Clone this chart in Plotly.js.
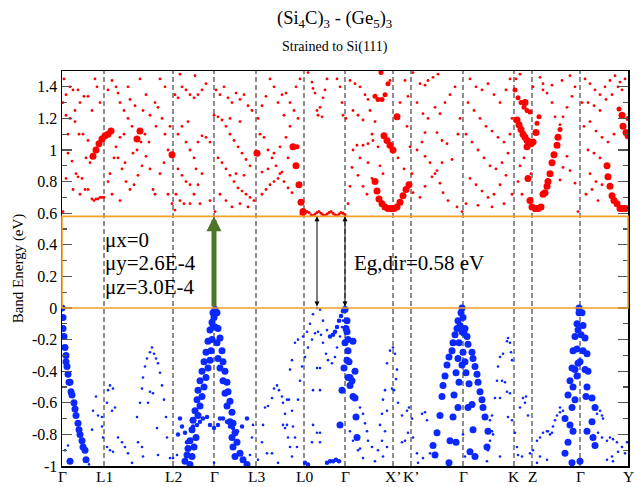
<!DOCTYPE html>
<html>
<head>
<meta charset="utf-8">
<script src="https://cdn.plot.ly/plotly-3.0.1.min.js"></script>
<style>html,body{margin:0;padding:0;background:#fff;}#chart{width:636px;height:487px;}</style>
</head>
<body>
<div id="chart"></div>
<script>
// k-path high-symmetry points (path coordinate) and labels
const kTickPos = [62,104,173,214,256,304,345,393,411,463,514,532,580,628];
const kTickLabels = ['Γ','L1','L2','Γ','L3','L0','Γ','X’','K’','Γ','K','Z','Γ','Y'];
const yTickVals = [-1,-0.8,-0.6,-0.4,-0.2,0,0.2,0.4,0.6,0.8,1,1.2,1.4];
const yTickText = ['-1','-0.8','-0.6','-0.4','-0.2','0','0.2','0.4','0.6','0.8','1','1.2','1.4'];
const gapVBM = 0, gapCBM = 0.58;
const greenArrowK = 214;
const blackArrowK = [317,345];

// conduction bands: low weight
const cbSmallPts = [
[64,1.45],[66,1.35],[70,1.40],[73,1.38],[78,1.38],[80,1.30],[84,1.34],[88,1.34],[92,1.25],[95,1.45],[66,1.22],[70,1.20],[75,1.18],[79,1.10],[83,1.10],[88,1.06],[68,0.98],[72,0.93],[76,0.85],[78,0.83],[82,0.82],[85,0.75],[88,0.75],[73,0.75],[66,0.82],[80,0.72],[92,0.69],[94,0.68],[96,0.69],[98,0.69],[100,0.70],[102,0.70],[104,0.70],[97,1.40],[100,1.30],[68,1.10],[86,0.95],[90,0.92],[63,0.61],[63,1.30],[75,1.25],
[108,1.38],[112,1.44],[116,1.40],[118,1.36],[120,1.30],[124,1.25],[128,1.20],[132,1.15],[135,1.28],[130,1.32],[128,1.40],[140,1.45],[143,1.25],[146,1.35],[150,1.22],[155,1.30],[158,1.27],[162,1.20],[165,1.10],[168,1.00],[160,1.45],[165,1.40],[110,0.85],[114,0.95],[118,0.95],[122,0.88],[126,0.80],[130,0.75],[134,0.78],[138,0.84],[142,0.90],[146,0.96],[150,0.88],[153,0.75],[155,0.72],[108,0.80],[112,0.72],[120,0.68],[125,0.92],[133,0.98],[137,1.00],[141,1.05],[145,1.10],[149,1.05],[160,0.85],[164,0.92],[168,0.72],[172,0.66],[116,1.02],[120,1.08],[124,1.10],[156,1.15],[170,1.15],
[175,1.35],[178,1.33],[182,1.40],[186,1.38],[190,1.35],[194,1.33],[198,1.35],[202,1.38],[206,1.42],[180,1.48],[195,1.47],[178,1.10],[182,1.15],[186,1.05],[190,1.00],[194,0.95],[198,1.05],[202,1.09],[206,1.08],[210,1.05],[178,0.88],[182,0.84],[186,0.80],[190,0.78],[194,0.72],[198,0.78],[202,0.85],[176,0.72],[180,0.68],[184,0.66],[190,0.66],[200,0.66],[210,0.68],[175,0.62],[188,1.18],[196,0.88],
[214,1.22],[218,1.21],[222,1.19],[226,1.15],[230,1.10],[234,1.06],[238,1.02],[242,0.98],[246,0.94],[250,0.90],[216,1.38],[220,1.35],[224,1.40],[228,1.33],[232,1.30],[236,1.36],[240,1.32],[244,1.35],[248,1.28],[252,1.25],[218,0.95],[222,0.92],[226,0.88],[230,0.84],[234,0.80],[238,0.76],[242,0.74],[246,0.72],[250,0.70],[254,0.68],[220,0.72],[226,0.68],[232,0.64],[240,0.66],[248,0.64],[236,0.85],[244,0.84],[230,1.20],[240,1.18],[215,0.61],
[258,1.20],[262,1.28],[266,1.34],[270,1.45],[274,1.40],[278,1.30],[282,1.35],[286,1.36],[290,1.30],[294,1.25],[298,1.20],[260,1.10],[264,1.08],[268,1.00],[272,0.95],[276,0.90],[280,0.85],[284,0.80],[288,0.76],[292,0.73],[262,0.72],[266,0.75],[270,0.78],[274,0.80],[278,0.82],[282,0.86],[262,0.86],[268,0.88],[274,0.98],[280,1.02],[286,1.08],[290,1.15],[296,1.40],[300,1.45],[288,0.95],[284,1.22],
[308,1.49],[312,1.43],[315,1.36],[317,1.25],[313,1.39],[320,1.27],[323,1.33],[325,1.38],[327,1.45],[337,1.45],[340,1.40],[342,1.30],[343,1.22],[318,1.22],[322,1.21],
[350,1.44],[355,1.42],[360,1.40],[365,1.35],[368,1.32],[370,1.25],[375,1.18],[390,1.44],[353,1.25],[358,1.22],[363,1.19],[353,1.00],[357,1.03],[363,1.03],[368,1.04],[373,1.06],[378,1.02],[352,0.89],[358,0.84],[363,0.77],[367,0.72],[368,0.92],[372,0.82],[350,0.77],[348,0.66],[346,1.20],[360,0.95],[372,1.10],[380,0.90],[383,0.85],
[400,1.30],[405,1.44],[408,1.34],[407,1.15],[404,0.88],[398,0.95],[410,1.02],[412,0.85],[408,0.76],[413,1.49],[417,1.30],[420,1.42],[425,1.41],[428,1.44],[433,1.46],[438,1.48],[423,1.23],[428,1.20],[435,1.27],[440,1.23],[445,1.30],[450,1.35],[455,1.40],[417,1.00],[422,1.05],[425,1.11],[437,1.11],[442,1.06],[447,1.04],[425,0.96],[430,0.92],[435,0.85],[440,0.79],[443,0.73],[448,0.68],[457,0.64],[462,0.61],[413,0.73],[420,0.70],[425,0.77],[432,0.83],[437,0.87],[442,0.92],[452,0.94],[460,1.20],[458,1.10],
[470,1.45],[476,1.40],[482,1.38],[488,1.42],[494,1.35],[500,1.30],[506,1.38],[510,1.45],[468,1.30],[474,1.25],[480,1.20],[486,1.15],[492,1.12],[498,1.08],[504,1.05],[466,1.10],[472,1.05],[478,1.00],[484,0.95],[490,0.90],[496,0.88],[502,0.92],[508,0.98],[470,0.82],[476,0.78],[482,0.74],[488,0.70],[494,0.72],[500,0.78],[506,0.84],[466,0.66],[478,0.65],[492,0.64],[504,0.66],[512,0.72],[512,1.20],[510,1.10],
[543,1.38],[547,1.36],[552,1.30],[555,1.21],[560,1.16],[563,1.21],[567,1.27],[572,1.34],[575,1.40],[543,1.42],[552,1.41],[562,1.44],[570,1.47],[540,1.46],[560,0.81],[563,0.89],[567,0.96],[570,0.87],[575,0.79],[578,0.61],[520,0.90],[524,0.95],[518,0.80],[522,0.72],[516,1.45],[520,1.48],[533,1.40],[531,0.85],
[585,1.45],[590,1.42],[595,1.38],[600,1.35],[605,1.40],[610,1.44],[615,1.47],[620,1.43],[588,1.30],[594,1.28],[600,1.25],[606,1.32],[612,1.35],[618,1.40],[584,1.15],[590,1.18],[596,1.12],[602,1.08],[608,1.05],[614,1.10],[588,1.00],[594,0.98],[600,0.95],[596,0.80],[602,0.78],[586,0.72],[598,0.68],[592,0.75],[590,0.85],[582,1.30],[625,1.45],[622,1.38]
];
// conduction band edge near L0-Γ (wavy)
const cbWavePts = [
[301,0.595],[303,0.59],[305,0.60],[307,0.61],[309,0.605],[311,0.59],[313,0.585],[315,0.595],[317,0.605],[319,0.61],[321,0.60],[323,0.59],[325,0.585],[327,0.595],[329,0.605],[331,0.61],[333,0.60],[335,0.59],[337,0.585],[339,0.595],[341,0.605],[343,0.60],[345,0.59]
];
// conduction bands: medium weight
const cbMedPts = [
[381,1.49],[375,1.34],[378,1.32],[382,1.32],[385,1.35],[388,1.42],[515,1.38],[518,1.33],[521,1.30],[524,1.27],[527,1.25],[530,1.24],[537,1.17],[539,1.21],[560,1.13],[619,1.26],[628,1.20],[297,1.02]
];
// conduction bands: high weight
const cbBigPts = [
[93,0.96],[96,1.00],[99,1.04],[102,1.07],[105,1.09],[108,1.10],[111,1.12],
[137,1.07],[140,1.12],[172,0.97],[257,0.98],
[293,1.02],[296,0.90],[299,0.78],[301,0.67],[303,0.61],
[375,0.80],[377,0.74],[379,0.69],[382,0.66],[385,0.64],[388,0.63],[391,0.63],[394,0.63],[397,0.64],[400,0.67],[403,0.71],[406,0.75],[409,0.78],
[384,1.09],[387,1.06],[390,1.03],[393,1.00],[397,1.21],
[517,1.19],[519,1.16],[521,1.13],[523,1.10],[525,1.08],[527,1.06],[529,1.05],[531,1.04],[533,1.05],[525,1.30],[527,1.02],
[528,0.82],[530,0.68],[532,0.64],[535,0.63],[538,0.63],[541,0.64],[543,0.72],[545,0.73],[547,0.77],[548,0.80],[550,0.85],[552,0.92],[554,0.97],[557,1.03],[558,1.08],[536,1.11],
[607,0.90],[608,0.83],[610,0.77],[612,0.71],[614,0.68],[617,0.66],[620,0.63],[623,0.63],[626,0.63],[622,1.22],[623,1.15],[626,1.11],[628,1.09]
];
// valence bands: low weight
const vbSmallPts = [
[96,-0.56],[93,-0.65],[98,-0.68],[102,-0.75],[103,-0.82],[107,-0.88],[110,-0.90],[113,-0.91],[118,-0.82],[122,-0.85],[125,-0.88],[128,-0.92],[132,-0.98],[110,-0.49],[108,-0.52],[113,-0.51],[107,-0.60],[112,-0.65],[115,-0.63],[102,-0.69],[92,-0.77],[137,-0.69],[138,-0.85],[142,-0.88],[140,-0.60],[142,-0.51],[143,-0.44],[145,-0.37],[147,-0.32],[150,-0.28],[152,-0.25],[154,-0.29],[156,-0.32],[158,-0.35],[160,-0.41],[162,-0.49],[164,-0.58],[166,-0.69],[167,-0.82],[150,-0.53],[153,-0.54],[148,-0.60],[157,-0.76],[158,-0.93],[170,-0.95],[143,-0.94],[89,-0.99],[65,-0.90],[68,-0.87],
[177,-0.93],[250,-0.93],[252,-0.82],[253,-0.74],[214,-0.98],[173,-0.95],
[263,-0.74],[265,-0.63],[268,-0.62],[272,-0.57],[274,-0.51],[277,-0.49],[279,-0.52],[282,-0.56],[283,-0.60],[285,-0.67],[287,-0.74],[288,-0.82],[290,-0.88],[292,-0.94],[262,-0.85],[267,-0.92],[272,-0.92],[283,-0.74],[285,-0.76],[287,-0.58],[289,-0.58],[292,-0.65],[293,-0.75],[295,-0.82],[297,-0.88],[298,-0.58],[300,-0.46],[290,-0.39],[292,-0.33],[295,-0.22],[298,-0.20],[303,-0.18],[307,-0.15],[310,-0.10],[313,-0.04],[317,0.00],[320,-0.01],[323,-0.08],[327,-0.14],[302,-0.37],[305,-0.31],[308,-0.25],[312,-0.20],[315,-0.16],[318,-0.15],[321,-0.17],[323,-0.22],[326,-0.29],[328,-0.33],[332,-0.35],[335,-0.31],[337,-0.25],[340,-0.18],[342,-0.12],[343,-0.08],[317,-0.38],[320,-0.38],[313,-0.52],[320,-0.52],[313,-0.74],[317,-0.79],[320,-0.79],[312,-0.85],[320,-0.85],[258,-0.96],[278,-0.98],
[360,-0.63],[363,-0.67],[365,-0.73],[367,-0.78],[368,-0.84],[360,-0.89],[363,-0.95],[350,-0.78],[353,-0.84],[358,-0.90],
[387,-0.35],[390,-0.27],[393,-0.25],[395,-0.29],[397,-0.39],[392,-0.51],[394,-0.52],[385,-0.52],[383,-0.58],[387,-0.65],[382,-0.67],[380,-0.74],[385,-0.78],[382,-0.84],[378,-0.90],[387,-0.88],[383,-0.94],[375,-0.97],[372,-0.88],[402,-0.68],[407,-0.65],[409,-0.63],[412,-0.70],[408,-0.79],[405,-0.84],[402,-0.85],[413,-0.82],[417,-0.92],[422,-0.67],[425,-0.66],[427,-0.71],[423,-0.95],[430,-0.92],[418,-0.98],[396,-0.45],[398,-0.60],
[490,-0.71],[492,-0.78],[490,-0.84],[493,-0.80],[488,-0.90],[487,-0.97],[495,-0.57],[497,-0.46],[498,-0.37],[500,-0.31],[503,-0.29],[507,-0.21],[508,-0.19],[510,-0.22],[511,-0.28],[512,-0.33],[502,-0.46],[505,-0.47],[507,-0.53],[510,-0.54],[500,-0.57],[508,-0.69],[512,-0.71],[515,-0.79],[517,-0.88],[518,-0.93],[500,-0.94],[522,-0.94],[523,-0.57],[526,-0.56],[525,-0.60],[528,-0.68],[520,-0.63],[530,-0.92],[533,-0.90],[537,-0.84],[540,-0.82],[543,-0.79],[547,-0.78],[550,-0.80],[553,-0.75],[555,-0.71],[557,-0.68],[560,-0.66],[540,-0.94],[547,-0.96],[537,-0.98],[492,-0.68],[463,-0.80],[465,-0.94],
[560,-0.63],[563,-0.65],[548,-0.78],[552,-0.79],[597,-0.67],[600,-0.65],[602,-0.68],[603,-0.70],[598,-0.79],[602,-0.82],[607,-0.84],[610,-0.82],[613,-0.83],[617,-0.85],[618,-0.91],[622,-0.88],[612,-0.94],[613,-0.97],[607,-0.96],[625,-0.92],[627,-0.85]
];
// valence bands: medium weight
const vbMedPts = [
[193,-0.75],[197,-0.74],[200,-0.72],[203,-0.70],[207,-0.69],[210,-0.74],[214,-0.76],[218,-0.74],[220,-0.70],[223,-0.70],[227,-0.72],[230,-0.75],[233,-0.76],[237,-0.78],[242,-0.75],[247,-0.70],[180,-0.70],[182,-0.75],[185,-0.79],[187,-0.85],[178,-0.80],
[330,-0.18],[333,-0.17],[335,-0.15],[337,-0.12],[339,-0.08],[341,-0.05],[343,-0.02],[327,-0.98],[330,-0.97],[333,-0.97],[336,-0.96],[339,-0.97],[305,-0.98],[308,-0.99]
];
// valence bands: high weight
const vbBigPts = [
[62,0.00],[63,-0.06],[63,-0.13],[64,-0.18],[65,-0.25],[66,-0.30],[66,-0.34],[67,-0.37],[68,-0.42],[69,-0.47],[70,-0.47],[71,-0.53],[72,-0.55],[74,-0.60],[75,-0.64],[76,-0.68],[78,-0.73],[79,-0.77],[80,-0.80],[82,-0.84],[83,-0.88],[85,-0.90],[86,-0.96],[70,-0.97],
[213,-0.03],[212,-0.09],[210,-0.14],[208,-0.21],[206,-0.28],[204,-0.34],[202,-0.40],[200,-0.46],[198,-0.52],[197,-0.58],[195,-0.65],[193,-0.71],[192,-0.77],[190,-0.84],[188,-0.89],[187,-0.93],[185,-0.97],
[214,-0.06],[213,-0.12],[212,-0.20],[211,-0.27],[210,-0.33],[208,-0.38],[206,-0.44],[204,-0.50],[202,-0.56],[200,-0.62],[198,-0.68],[196,-0.82],[194,-0.88],[192,-0.94],[190,-0.99],
[215,-0.01],[217,-0.03],[218,-0.13],[220,-0.19],[222,-0.27],[223,-0.34],[225,-0.40],[227,-0.47],[228,-0.53],[230,-0.59],[232,-0.66],[233,-0.73],[235,-0.79],[237,-0.85],[240,-0.92],[243,-0.96],[247,-0.99],
[215,-0.12],[217,-0.22],[218,-0.32],[220,-0.38],[223,-0.46],[225,-0.54],[227,-0.62],[230,-0.72],[232,-0.82],[233,-0.88],[235,-0.94],
[345,-0.01],[347,-0.08],[346,-0.13],[347,-0.15],[348,-0.20],[345,-0.22],[348,-0.27],[347,-0.33],[349,-0.34],[344,-0.38],[350,-0.44],[348,-0.44],[352,-0.46],[350,-0.49],[342,-0.52],[353,-0.56],[355,-0.57],[356,-0.69],[340,-0.74],[357,-0.82],[355,-0.40],[353,-0.21],
[462,0.00],[461,-0.03],[463,-0.06],[458,-0.08],[460,-0.11],[457,-0.13],[462,-0.15],[465,-0.13],[464,-0.16],[467,-0.18],[455,-0.17],[453,-0.22],[459,-0.22],[468,-0.23],[452,-0.27],[463,-0.28],[472,-0.28],[449,-0.31],[458,-0.32],[465,-0.34],[473,-0.32],[462,-0.36],[447,-0.36],[475,-0.37],[456,-0.41],[466,-0.41],[477,-0.42],[445,-0.43],[459,-0.47],[469,-0.48],[478,-0.47],[443,-0.49],[454,-0.55],[480,-0.53],[442,-0.56],[482,-0.58],[458,-0.63],[472,-0.61],[468,-0.63],[483,-0.63],[453,-0.69],[485,-0.69],[440,-0.68],[473,-0.77],[488,-0.78],[437,-0.79],[450,-0.84],[456,-0.85],[433,-0.87],[487,-0.88],[470,-0.91],[435,-0.93],[475,-0.94],[449,-0.98],
[579,0.00],[579,-0.03],[582,-0.03],[577,-0.10],[583,-0.11],[578,-0.14],[581,-0.17],[575,-0.18],[585,-0.19],[573,-0.27],[583,-0.27],[577,-0.26],[587,-0.29],[580,-0.34],[578,-0.35],[572,-0.38],[575,-0.39],[585,-0.39],[588,-0.40],[577,-0.43],[570,-0.46],[587,-0.50],[573,-0.50],[568,-0.55],[586,-0.56],[592,-0.57],[575,-0.58],[572,-0.63],[595,-0.63],[565,-0.70],[570,-0.74],[592,-0.72],[573,-0.78],[587,-0.78],[593,-0.82],[568,-0.85],[595,-0.87],[565,-0.92],[572,-0.98],[580,-0.97]
];

const SERIF = 'Liberation Serif, Times New Roman, serif';
const RED = 'rgb(255,0,0)';
const BLUE = 'rgb(10,40,255)';
function tr(pts, color, size){
  return {type:'scatter', mode:'markers', x:pts.map(p=>p[0]), y:pts.map(p=>p[1]),
    marker:{color:color, size:size, line:{width:0}}, hoverinfo:'skip', showlegend:false, cliponaxis:true};
}
const data = [
  tr(cbSmallPts, RED, 2.8), tr(cbWavePts, RED, 3), tr(cbMedPts, RED, 5), tr(cbBigPts, RED, 7),
  tr(vbSmallPts, BLUE, 2.6), tr(vbMedPts, BLUE, 4.5), tr(vbBigPts, BLUE, 7)
];

const shapes = kTickPos.slice(1, kTickPos.length-1).map(k => ({
  type:'line', xref:'x', yref:'paper', x0:k, x1:k, y0:0, y1:1, layer:'below',
  line:{color:'#444', width:1.2, dash:'5px,3px'}
}));
shapes.push({type:'rect', xref:'paper', yref:'y', x0:0, x1:1, y0:gapVBM, y1:gapCBM, layer:'above',
  line:{color:'rgb(245,160,40)', width:1.6}, fillcolor:'rgba(0,0,0,0)'});

const annotations = [
  {xref:'paper', yref:'paper', x:0.482, y:1.13, xanchor:'center', yanchor:'middle', showarrow:false,
   text:'(Si<sub>4</sub>C)<sub>3</sub> - (Ge<sub>5</sub>)<sub>3</sub>', font:{family:SERIF, size:18.5, color:'#000'}},
  {xref:'paper', yref:'paper', x:0.482, y:1.061, xanchor:'center', yanchor:'middle', showarrow:false,
   text:'Strained to Si(111)', font:{family:SERIF, size:14, color:'#000'}},
  {xref:'x', yref:'y', x:103, y:0.43, xanchor:'left', yanchor:'middle', showarrow:false, text:'μx=0', font:{family:SERIF, size:21, color:'#000'}},
  {xref:'x', yref:'y', x:103, y:0.285, xanchor:'left', yanchor:'middle', showarrow:false, text:'μy=2.6E-4', font:{family:SERIF, size:21, color:'#000'}},
  {xref:'x', yref:'y', x:103, y:0.133, xanchor:'left', yanchor:'middle', showarrow:false, text:'μz=3.0E-4', font:{family:SERIF, size:21, color:'#000'}},
  {xref:'x', yref:'y', x:352, y:0.285, xanchor:'left', yanchor:'middle', showarrow:false, text:'Eg,dir=0.58 eV', font:{family:SERIF, size:21, color:'#000'}},
  {xref:'x', yref:'y', axref:'x', ayref:'y', x:greenArrowK, y:gapCBM, ax:greenArrowK, ay:gapVBM, text:'', showarrow:true,
   arrowhead:2, arrowsize:0.6, arrowwidth:5, arrowcolor:'rgb(78,118,42)'}
];
blackArrowK.forEach(k => annotations.push({xref:'x', yref:'y', axref:'x', ayref:'y', x:k, y:gapCBM, ax:k, ay:gapVBM, text:'',
  showarrow:true, arrowside:'end+start', arrowhead:2, startarrowhead:2, arrowsize:1, startarrowsize:1, arrowwidth:1, arrowcolor:'#000'}));
// k-point labels under the axis
kTickPos.forEach((k, i) => annotations.push({xref:'x', yref:'paper', x:k, y:-0.0255, xanchor:'center', yanchor:'middle',
  showarrow:false, text:kTickLabels[i], borderpad:0, font:{family:SERIF, size:15.5, color:'#000'}}));

const layout = {
  width:636, height:487,
  margin:{l:62, r:8, t:71, b:21, pad:0},
  paper_bgcolor:'#fff', plot_bgcolor:'#fff',
  showlegend:false,
  xaxis:{range:[kTickPos[0], kTickPos[kTickPos.length-1]], tickmode:'array', tickvals:kTickPos, ticktext:kTickLabels,
    showticklabels:false, ticks:'', showgrid:false, zeroline:false, showline:true, mirror:true, linecolor:'#000', linewidth:1.5,
    fixedrange:true},
  yaxis:{range:[-1,1.5], tickmode:'array', tickvals:yTickVals, ticktext:yTickText,
    ticks:'inside', ticklen:10, tickwidth:1.3, tickcolor:'#555', mirror:'ticks', showline:true, linecolor:'#000', linewidth:1.5,
    showgrid:false, zeroline:false, tickfont:{family:SERIF, size:16, color:'#000'},
    minor:{ticks:'inside', ticklen:5, tickwidth:1.1, tickcolor:'#555', dtick:0.1, tick0:0, showgrid:false},
    title:{text:'Band Energy (eV)', font:{family:SERIF, size:15, color:'#000'}, standoff:4}, fixedrange:true},
  shapes:shapes,
  annotations:annotations
};
Plotly.newPlot('chart', data, layout, {staticPlot:true, displayModeBar:false});
</script>
</body>
</html>
